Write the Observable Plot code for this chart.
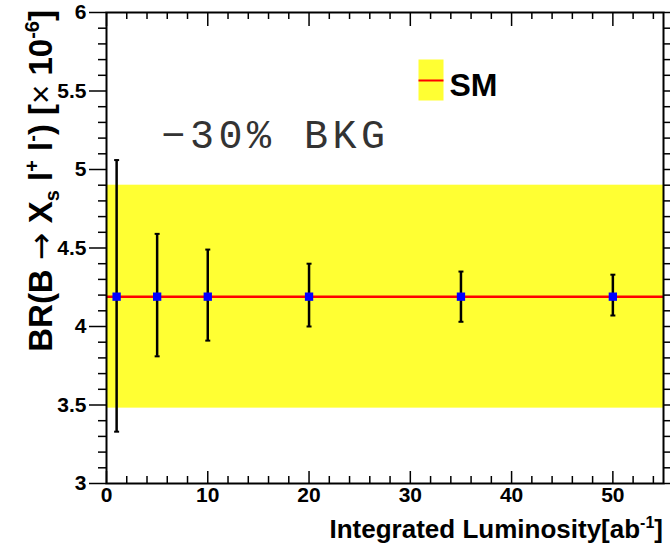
<!DOCTYPE html>
<html><head><meta charset="utf-8">
<script src="https://cdn.jsdelivr.net/npm/d3@7"></script>
<script src="https://cdn.jsdelivr.net/npm/@observablehq/plot@0.6"></script>
<style>body{margin:0;background:#fff} svg{display:block}</style>
</head><body><div id="chart"></div>
<script>
// ---- data ----
const lumi = [1, 5, 10, 20, 35, 50];
const brCentral = [4.19, 4.19, 4.19, 4.19, 4.19, 4.19];
const brHigh = [5.06, 4.59, 4.49, 4.40, 4.35, 4.33];
const brLow = [3.33, 3.81, 3.91, 4.00, 4.03, 4.07];
const smValue = 4.19;
const smBandLow = 3.48;
const smBandHigh = 4.90;
const xDomain = [0, 55];
const yDomain = [3, 6];
const xMajorTicks = [0, 10, 20, 30, 40, 50];
const xMinorTicks = [2, 4, 6, 8, 12, 14, 16, 18, 22, 24, 26, 28, 32, 34, 36, 38, 42, 44, 46, 48, 52, 54];
const yMajorTicks = [3, 3.5, 4, 4.5, 5, 5.5, 6];
const yMinorTicks = [3.1, 3.2, 3.3, 3.4, 3.6, 3.7, 3.8, 3.9, 4.1, 4.2, 4.3, 4.4, 4.6, 4.7, 4.8, 4.9, 5.1, 5.2, 5.3, 5.4, 5.6, 5.7, 5.8, 5.9];
const legendLabel = "SM";
const noteLabel = "\u221230% BKG";

// ---- layout ----
const W = 670, H = 548, mL = 106, mR = 7, mT = 12, mB = 65;
const fh = H - mT - mB;
const font = "'Liberation Sans', Arial, Helvetica, sans-serif";
const rows = lumi.map((x, i) => ({x, c: brCentral[i], hi: brHigh[i], lo: brLow[i]}));
const band = [{x1: xDomain[0], x2: xDomain[1], y1: smBandLow, y2: smBandHigh}];
const capSym = {draw(ctx) { ctx.moveTo(-2.5, 0); ctx.lineTo(2.5, 0); }};

const plot = Plot.plot({
  width: W, height: H,
  marginLeft: mL, marginRight: mR, marginTop: mT, marginBottom: mB,
  style: {fontFamily: font, background: "#fff", color: "#000", overflow: "visible"},
  x: {domain: xDomain},
  y: {domain: yDomain},
  marks: [
    Plot.rect(band, {x1: "x1", x2: "x2", y1: "y1", y2: "y2", fill: "#ffff33"}),
    Plot.ruleY([smValue], {stroke: "#ff0000", strokeWidth: 2.5}),
    Plot.ruleX(rows, {x: "x", y1: "lo", y2: "hi", stroke: "#000", strokeWidth: 2.5}),
    Plot.dot(rows, {x: "x", y: "hi", symbol: capSym, stroke: "#000", strokeWidth: 2}),
    Plot.dot(rows, {x: "x", y: "lo", symbol: capSym, stroke: "#000", strokeWidth: 2}),
    Plot.dot(rows, {x: "x", y: "c", symbol: "square", fill: "#0000ff", r: 4.7}),
    // left axis (ticks outside)
    Plot.axisY({anchor: "left", ticks: yMajorTicks, tickSize: 17, tickPadding: 3, fontSize: 21, fontWeight: "bold", tickFormat: d => String(d), label: null, strokeWidth: 1.5}),
    Plot.axisY({anchor: "left", ticks: yMinorTicks, tickSize: 8, text: null, label: null, strokeWidth: 1.5}),
    // right axis (ticks outside)
    Plot.axisY({anchor: "right", ticks: yMajorTicks, tickSize: 8, text: null, label: null, strokeWidth: 1.5}),
    Plot.axisY({anchor: "right", ticks: yMinorTicks, tickSize: 7, text: null, label: null, strokeWidth: 1.5}),
    // bottom labels
    Plot.axisX({anchor: "bottom", ticks: xMajorTicks, tickSize: 0, tickPadding: 4, fontSize: 21, fontWeight: "bold", tickFormat: d => String(d), label: null}),
    // bottom ticks (inside)
    Plot.tickX(xMajorTicks, {x: d => d, insetTop: fh - 12, stroke: "#000", strokeWidth: 1.5}),
    Plot.tickX(xMinorTicks, {x: d => d, insetTop: fh - 7, stroke: "#000", strokeWidth: 1.5}),
    // top ticks (inside)
    Plot.tickX(xMajorTicks, {x: d => d, insetBottom: fh - 14, stroke: "#000", strokeWidth: 1.5}),
    Plot.tickX(xMinorTicks, {x: d => d, insetBottom: fh - 7, stroke: "#000", strokeWidth: 1.5}),
    Plot.frame({stroke: "#000", strokeWidth: 2}),
    // legend
    Plot.frame({fill: "#ffff33", stroke: null, insetLeft: 312, insetRight: 220, insetTop: 47, insetBottom: 383}),
    Plot.frame({fill: "#ff0000", stroke: null, insetLeft: 312, insetRight: 220, insetTop: 67, insetBottom: 402}),
    Plot.text([legendLabel], {text: d => d, frameAnchor: "top-left", dx: 343, dy: 73, textAnchor: "start", lineAnchor: "middle", fontSize: 32, fontWeight: "bold", fill: "#000"}),
    Plot.text([noteLabel], {text: d => d, frameAnchor: "top-left", dx: 55, dy: 123, textAnchor: "start", lineAnchor: "middle", fontSize: 40, fontFamily: "'Liberation Mono', 'Courier New', monospace", fill: "#333"})
  ]
});

const svg = d3.select(plot);
svg.selectAll("text").filter(function() { return this.textContent === noteLabel; }).style("letter-spacing", "4.5px");

// y title
const yt = svg.append("text")
  .attr("transform", "translate(52,10) rotate(-90)")
  .attr("text-anchor", "end")
  .attr("fill", "#000")
  .style("font", `bold 33px ${font}`);
yt.append("tspan").text("BR(B ");
yt.append("tspan").style("font-weight", "normal").style("font-family", "'DejaVu Sans', sans-serif").text("\u2192");
yt.append("tspan").text(" X");
yt.append("tspan").attr("dy", 7).style("font-size", "20px").text("s");
yt.append("tspan").attr("dy", -7).text(" l");
yt.append("tspan").attr("dy", -13).style("font-size", "20px").text("+");
yt.append("tspan").attr("dy", 13).text(" l");
yt.append("tspan").attr("dy", -13).style("font-size", "20px").text("-");
yt.append("tspan").attr("dy", 13).text(") [");
yt.append("tspan").style("font-weight", "normal").text("\u00d7");
yt.append("tspan").text(" 10");
yt.append("tspan").attr("dy", -13).style("font-size", "20px").text("-6");
yt.append("tspan").attr("dy", 13).text("]");

// x title
const xt = svg.append("text")
  .attr("x", 663).attr("y", 538)
  .attr("text-anchor", "end")
  .attr("fill", "#000")
  .style("font", `bold 26px ${font}`);
xt.append("tspan").text("Integrated Luminosity[ab");
xt.append("tspan").attr("dy", -10).style("font-size", "16px").text("-1");
xt.append("tspan").attr("dy", 10).text("]");

document.getElementById("chart").append(plot);
</script>
</body></html>
